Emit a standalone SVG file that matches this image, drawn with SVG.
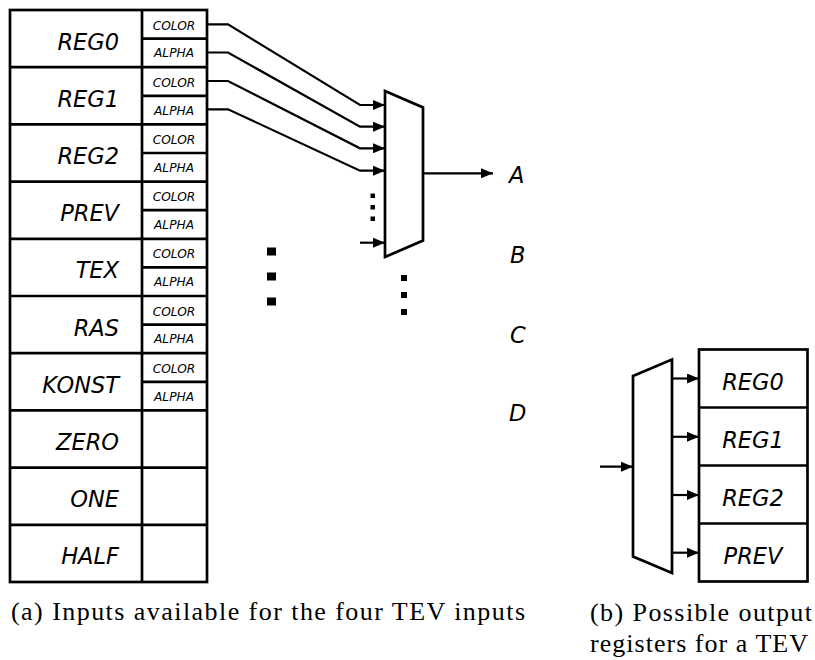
<svg xmlns="http://www.w3.org/2000/svg" width="815" height="660" viewBox="0 0 815 660">
<style>
.tb{fill:#fff;stroke:#000;stroke-width:2.7}
.ln{fill:none;stroke:#000;stroke-width:2.7}
.big{font-family:"DejaVu Sans",sans-serif;font-style:italic;font-size:22.5px;fill:#000}
.sm{font-family:"DejaVu Sans",sans-serif;font-style:italic;font-size:12.2px;fill:#000;text-anchor:middle}
.cap{font-family:"Liberation Serif",serif;font-size:26px;fill:#000}
.con{fill:none;stroke:#000;stroke-width:2.2}
.mux{fill:#fff;stroke:#000;stroke-width:2.7;stroke-linejoin:miter}
</style>
<defs>
<marker id="ah" viewBox="0 0 12 10" refX="12" refY="5" markerWidth="12" markerHeight="10" markerUnits="userSpaceOnUse" orient="auto">
<path d="M0,0 L12,5 L0,10 z" fill="#000"/>
</marker>
</defs>
<rect x="0" y="0" width="815" height="660" fill="#fff"/>

<g id="inputs-table">
<rect class="tb" x="10" y="10" width="197" height="572"/>
<line class="ln" x1="142" y1="10" x2="142" y2="582"/>
<g id="reg0"><text class="big" x="119" y="49.6" text-anchor="end">REG0</text><line class="ln" x1="142" y1="38.6" x2="207" y2="38.6"/><text class="sm" x="174" y="29.5">COLOR</text><text class="sm" x="174" y="57.3">ALPHA</text><line class="ln" x1="10" y1="67.2" x2="207" y2="67.2"/></g>
<g id="reg1"><text class="big" x="119" y="106.8" text-anchor="end">REG1</text><line class="ln" x1="142" y1="95.8" x2="207" y2="95.8"/><text class="sm" x="174" y="86.7">COLOR</text><text class="sm" x="174" y="114.5">ALPHA</text><line class="ln" x1="10" y1="124.4" x2="207" y2="124.4"/></g>
<g id="reg2"><text class="big" x="119" y="164" text-anchor="end">REG2</text><line class="ln" x1="142" y1="153" x2="207" y2="153"/><text class="sm" x="174" y="143.9">COLOR</text><text class="sm" x="174" y="171.7">ALPHA</text><line class="ln" x1="10" y1="181.6" x2="207" y2="181.6"/></g>
<g id="prev"><text class="big" x="119" y="221.2" text-anchor="end">PREV</text><line class="ln" x1="142" y1="210.2" x2="207" y2="210.2"/><text class="sm" x="174" y="201.1">COLOR</text><text class="sm" x="174" y="228.9">ALPHA</text><line class="ln" x1="10" y1="238.8" x2="207" y2="238.8"/></g>
<g id="tex"><text class="big" x="119" y="278.4" text-anchor="end">TEX</text><line class="ln" x1="142" y1="267.4" x2="207" y2="267.4"/><text class="sm" x="174" y="258.3">COLOR</text><text class="sm" x="174" y="286.1">ALPHA</text><line class="ln" x1="10" y1="296" x2="207" y2="296"/></g>
<g id="ras"><text class="big" x="119" y="335.6" text-anchor="end">RAS</text><line class="ln" x1="142" y1="324.6" x2="207" y2="324.6"/><text class="sm" x="174" y="315.5">COLOR</text><text class="sm" x="174" y="343.3">ALPHA</text><line class="ln" x1="10" y1="353.2" x2="207" y2="353.2"/></g>
<g id="konst"><text class="big" x="119" y="392.8" text-anchor="end">KONST</text><line class="ln" x1="142" y1="381.8" x2="207" y2="381.8"/><text class="sm" x="174" y="372.7">COLOR</text><text class="sm" x="174" y="400.5">ALPHA</text><line class="ln" x1="10" y1="410.4" x2="207" y2="410.4"/></g>
<g id="zero"><text class="big" x="119" y="450" text-anchor="end">ZERO</text><line class="ln" x1="10" y1="467.6" x2="207" y2="467.6"/></g>
<g id="one"><text class="big" x="119" y="507.2" text-anchor="end">ONE</text><line class="ln" x1="10" y1="524.8" x2="207" y2="524.8"/></g>
<g id="half"><text class="big" x="119" y="564.4" text-anchor="end">HALF</text></g>
</g>

<g id="mux-a">
<polygon class="mux" points="385,91 423,107.5 423,240.5 385,257"/>
</g>

<g id="dots">
<rect x="370.5" y="193.5" width="4.5" height="4.5"/>
<rect x="370.5" y="205" width="4.5" height="4.5"/>
<rect x="370.5" y="216.5" width="4.5" height="4.5"/>
<rect x="267" y="247.5" width="9" height="8"/>
<rect x="267" y="272.5" width="9" height="8"/>
<rect x="267" y="297.5" width="9" height="8"/>
<rect x="401" y="275" width="6" height="6"/>
<rect x="401" y="292" width="6" height="6"/>
<rect x="401" y="309" width="6" height="6"/>
</g>

<g id="labels-abcd">
<text class="big" x="509" y="183">A</text>
<text class="big" x="510" y="263">B</text>
<text class="big" x="510" y="343">C</text>
<text class="big" x="509" y="421">D</text>
</g>

<g id="mux-b">
<polygon class="mux" points="633,376 672,359.5 672,573 633,556.5"/>
</g>

<g id="output-table">
<rect class="tb" x="699" y="349.5" width="108.5" height="232"/>
<g id="out-reg0"><text class="big" x="753" y="389.5" text-anchor="middle">REG0</text><line class="ln" x1="699" y1="407.5" x2="807.5" y2="407.5"/></g>
<g id="out-reg1"><text class="big" x="753" y="447.5" text-anchor="middle">REG1</text><line class="ln" x1="699" y1="465.5" x2="807.5" y2="465.5"/></g>
<g id="out-reg2"><text class="big" x="753" y="505.5" text-anchor="middle">REG2</text><line class="ln" x1="699" y1="523.5" x2="807.5" y2="523.5"/></g>
<g id="out-prev"><text class="big" x="753" y="563.5" text-anchor="middle">PREV</text></g>
</g>

<g id="connectors">
<path class="con" d="M207,24.3 H228 L360,105 H385" marker-end="url(#ah)"/>
<path class="con" d="M207,52.5 H228 L360,126.7 H385" marker-end="url(#ah)"/>
<path class="con" d="M207,81 H228 L360,148.3 H385" marker-end="url(#ah)"/>
<path class="con" d="M207,109.3 H228 L360,170.7 H385" marker-end="url(#ah)"/>
<path class="con" d="M360,242.7 H385" marker-end="url(#ah)"/>
<path class="con" d="M423,173.3 H493" marker-end="url(#ah)"/>
<path class="con" d="M600,466.7 H633" marker-end="url(#ah)"/>
<path class="con" d="M672,378.5 H699" marker-end="url(#ah)"/>
<path class="con" d="M672,436.8 H699" marker-end="url(#ah)"/>
<path class="con" d="M672,495 H699" marker-end="url(#ah)"/>
<path class="con" d="M672,552.7 H699" marker-end="url(#ah)"/>
</g>

<g id="captions">
<text class="cap" x="11" y="620" textLength="514" lengthAdjust="spacing">(a) Inputs available for the four TEV inputs</text>
<text class="cap" x="590" y="621" textLength="222" lengthAdjust="spacing">(b) Possible output</text>
<text class="cap" x="590" y="652" textLength="218" lengthAdjust="spacing">registers for a TEV</text>
</g>
</svg>
